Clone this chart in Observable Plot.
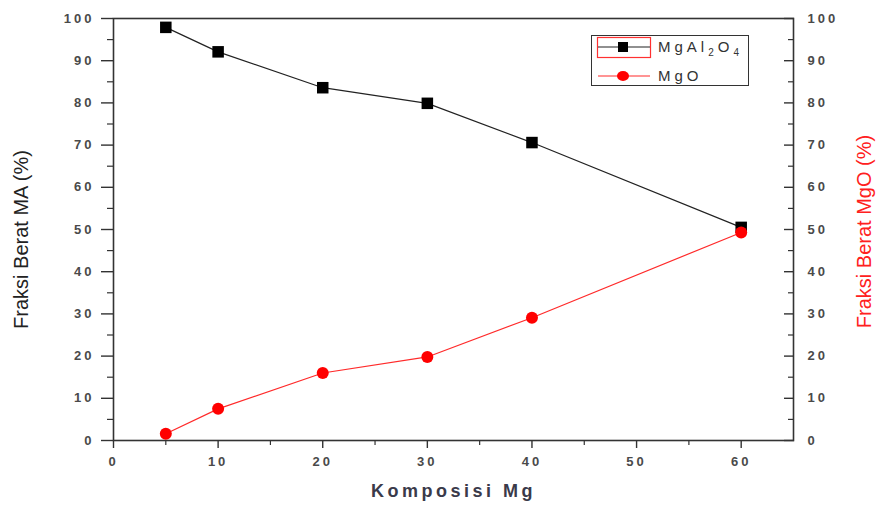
<!DOCTYPE html>
<html><head><meta charset="utf-8">
<script src="https://cdn.jsdelivr.net/npm/d3@7"></script>
<script src="https://cdn.jsdelivr.net/npm/@observablehq/plot@0.6"></script>
<style>
body{margin:0;background:#fff;}
#wrap{position:relative;width:882px;height:509px;font-family:"Liberation Sans",Arial,sans-serif;}
#legend{position:absolute;left:591px;top:35px;width:156px;height:49px;border:1.5px solid #333;background:#fff;box-sizing:content-box;}
#legend .lab{position:absolute;left:66px;font-size:15px;letter-spacing:4px;color:#333;white-space:nowrap;}
#legend sub{font-size:10px;}
</style>
</head><body>
<div id="wrap"></div>
<script>
const komposisi = [5, 10, 20, 30, 40, 60];
const mgal2o4 = [97.9, 92.1, 83.6, 79.9, 70.6, 50.5];
const mgo = [1.6, 7.5, 16.0, 19.8, 29.1, 49.3];
const xMajor = [0, 10, 20, 30, 40, 50, 60];
const xMinor = [5, 15, 25, 35, 45, 55];
const yMajor = [0, 10, 20, 30, 40, 50, 60, 70, 80, 90, 100];
const yMinor = [5, 15, 25, 35, 45, 55, 65, 75, 85, 95];
const xLabel = ["Komposisi Mg"];
const yLeftLabel = ["Fraksi Berat MA (%)"];
const yRightLabel = ["Fraksi Berat MgO (%)"];

const dataMA = komposisi.map((k, i) => ({x: k, y: mgal2o4[i]}));
const dataMgO = komposisi.map((k, i) => ({x: k, y: mgo[i]}));

const axisColor = "#333";
const tickText = "#4a4a4a";
const font = "Liberation Sans, Arial, sans-serif";

const chart = Plot.plot({
  width: 882,
  height: 509,
  marginLeft: 113,
  marginRight: 89,
  marginTop: 18,
  marginBottom: 69,
  style: {fontFamily: font, background: "#fff"},
  x: {domain: [0, 65]},
  y: {domain: [0, 100]},
  marks: [
    Plot.frame({stroke: axisColor, strokeWidth: 1.6}),
    // left axis
    Plot.axisY({anchor: "left", ticks: yMajor, tickSize: 12, tickPadding: 7, label: null, stroke: axisColor, strokeWidth: 1.4, fill: tickText, fontSize: 13, fontWeight: "bold"}),
    Plot.axisY({anchor: "left", ticks: yMinor, tickSize: 6, tickFormat: () => "", label: null, stroke: axisColor, strokeWidth: 1.2}),
    // right axis (ticks inward)
    Plot.axisY({anchor: "right", ticks: yMajor, tickSize: 10, dx: -10, tickFormat: () => "", label: null, stroke: axisColor, strokeWidth: 1.4}),
    Plot.axisY({anchor: "right", ticks: yMinor, tickSize: 6, dx: -6, tickFormat: () => "", label: null, stroke: axisColor, strokeWidth: 1.2}),
    Plot.axisY({anchor: "right", ticks: yMajor, tickSize: 0, tickPadding: 14, label: null, fill: tickText, fontSize: 13, fontWeight: "bold"}),
    // bottom axis
    Plot.axisX({anchor: "bottom", ticks: xMajor, tickSize: 8, tickPadding: 8, label: null, stroke: axisColor, strokeWidth: 1.4, fill: tickText, fontSize: 13, fontWeight: "bold"}),
    Plot.axisX({anchor: "bottom", ticks: xMinor, tickSize: 5, tickFormat: () => "", label: null, stroke: axisColor, strokeWidth: 1.2}),
    // axis titles
    Plot.text(xLabel, {text: d => d, frameAnchor: "bottom", textAnchor: "middle", dy: 56, fontSize: 18, fontWeight: "bold", fill: "#3a3a4a"}),
    Plot.text(yLeftLabel, {text: d => d, frameAnchor: "left", textAnchor: "middle", rotate: -90, dx: -92, dy: 10, fontSize: 20, fill: "#222"}),
    Plot.text(yRightLabel, {text: d => d, frameAnchor: "right", textAnchor: "middle", rotate: -90, dx: 71, dy: 2, fontSize: 20, fill: "#ff2020"}),
    // series
    Plot.line(dataMA, {x: "x", y: "y", stroke: "#222", strokeWidth: 1.2}),
    Plot.line(dataMgO, {x: "x", y: "y", stroke: "#ff2a2a", strokeWidth: 1.2}),
    Plot.dot(dataMA, {x: "x", y: "y", symbol: "square", r: 6.5, fill: "#000", stroke: "none"}),
    Plot.dot(dataMgO, {x: "x", y: "y", symbol: "circle", r: 6, fill: "#ff0000", stroke: "none"})
  ]
});

// letter spacing on tick labels and x title
d3.select(chart).selectAll('[aria-label="y-axis tick label"] text, [aria-label="x-axis tick label"] text').attr("letter-spacing", "3px");
d3.select(chart).selectAll('[aria-label="text"] text').filter(function(){ return this.textContent === xLabel[0]; }).attr("letter-spacing", "3.5px");

const wrap = document.getElementById("wrap");
wrap.appendChild(chart);

// legend
const legend = document.createElement("div");
legend.id = "legend";
legend.innerHTML = `
  <svg width="156" height="49" style="position:absolute;left:0;top:0">
    <rect x="5.5" y="1.5" width="53" height="20" fill="none" stroke="#ff3030" stroke-width="1.2"/>
    <line x1="6" x2="58" y1="11" y2="11" stroke="#222" stroke-width="1.1"/>
    <rect x="26" y="6" width="10" height="10" fill="#000"/>
    <line x1="6" x2="58" y1="40" y2="40" stroke="#ff2a2a" stroke-width="1.1"/>
    <ellipse cx="31" cy="40" rx="6" ry="5" fill="#ff0000"/>
  </svg>
  <div class="lab" style="top:2px">MgAl<sub>2</sub>O<sub>4</sub></div>
  <div class="lab" style="top:31px">MgO</div>`;
wrap.appendChild(legend);
</script>
</body></html>
